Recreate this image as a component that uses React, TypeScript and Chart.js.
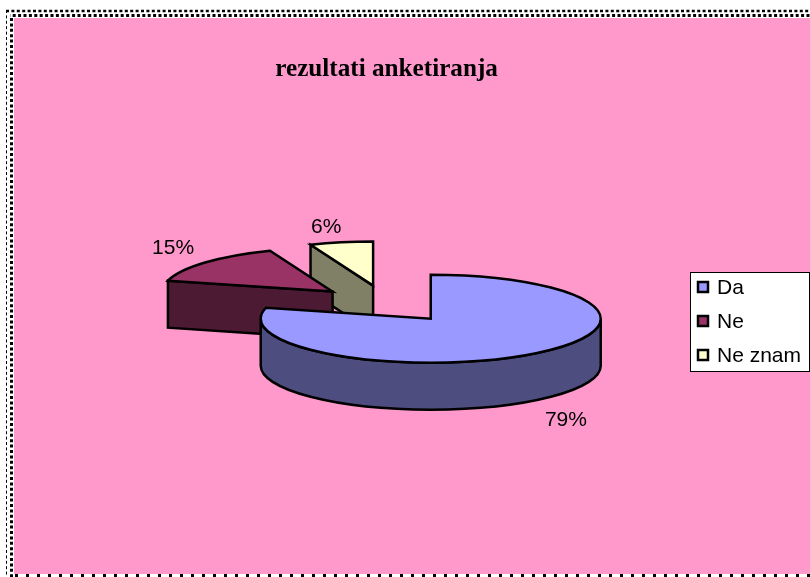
import React, { useEffect, useRef } from "react";
import { Chart, registerables } from "chart.js";

Chart.register(...registerables);

const categories = ["Da", "Ne", "Ne znam"];
const seriesValues = [79, 15, 6];
const topColors = ["#9999FF", "#993366", "#FFFFCC"];
const wallColors = ["#4D4D80", "#4D1A33", "#808066"];
const labelNudges = [[31, 20], [-32, -14], [-15, -15]];
const swatchRows = [287, 321, 355];

const TILT = 44 / 170;
const DEPTH = 47;
const RADIUS = 170;
const EXPLODE = 72;
const PINK = "#FF99CC";

function slicePath(ctx: CanvasRenderingContext2D, cx: number, cy: number, r: number, a0: number, a1: number) {
  ctx.beginPath();
  ctx.moveTo(cx, cy);
  ctx.ellipse(cx, cy, r, r * TILT, 0, a0, a1);
  ctx.closePath();
}

function paint(ctx: CanvasRenderingContext2D, fill: string) {
  ctx.fillStyle = fill;
  ctx.fill();
  ctx.stroke();
}

const pie3d = {
  id: "pie3d",
  beforeDraw(chart: any) {
    const { ctx, width, height } = chart;
    ctx.save();
    ctx.fillStyle = "#FFFFFF";
    ctx.fillRect(0, 0, width, height);
    ctx.fillStyle = PINK;
    ctx.fillRect(14, 18, width - 14, height - 18 - 3);
    ctx.strokeStyle = "#000000";
    const dashed = (x0: number, y0: number, x1: number, y1: number, lw: number, dash: number[], off = 0) => {
      ctx.beginPath();
      ctx.lineWidth = lw;
      ctx.setLineDash(dash);
      ctx.lineDashOffset = off;
      ctx.moveTo(x0, y0);
      ctx.lineTo(x1, y1);
      ctx.stroke();
    };
    dashed(6, 11, width, 11, 2.5, [3, 2.4]);
    dashed(10, 15.5, width, 15.5, 3, [3, 2.4], 2.7);
    dashed(6.5, 10, 6.5, height, 1, [3, 2.4]);
    dashed(11.5, 18, 11.5, height, 3, [3, 2.4]);
    dashed(14, 575.5, width, 575.5, 3, [3, 8], -1);
    ctx.restore();
  },
  beforeDatasetDraw(chart: any) {
    const { ctx } = chart;
    const arcs = chart.getDatasetMeta(0).data;
    const total = seriesValues.reduce((a, b) => a + b, 0);
    const centers = arcs.map((arc: any) => {
      const mid = (arc.startAngle + arc.endAngle) / 2;
      return {
        x: arc.x + Math.cos(mid) * EXPLODE,
        y: arc.y + Math.sin(mid) * EXPLODE * TILT,
      };
    });
    ctx.save();
    ctx.strokeStyle = "#000000";
    ctx.lineWidth = 2.5;
    ctx.lineJoin = "miter";
    for (let i = arcs.length - 1; i >= 0; i--) {
      const arc = arcs[i];
      const { x: cx, y: cy } = centers[i];
      const r = arc.outerRadius;
      const a0 = arc.startAngle;
      const a1 = arc.endAngle;
      for (const [angle, visible] of [
        [a0, Math.cos(a0) < -1e-6],
        [a1, Math.cos(a1) > 1e-6],
      ] as [number, boolean][]) {
        if (!visible) continue;
        const px = cx + Math.cos(angle) * r;
        const py = cy + Math.sin(angle) * r * TILT;
        ctx.beginPath();
        ctx.moveTo(cx, cy);
        ctx.lineTo(px, py);
        ctx.lineTo(px, py + DEPTH);
        ctx.lineTo(cx, cy + DEPTH);
        ctx.closePath();
        paint(ctx, wallColors[i]);
      }
      const lo = Math.max(a0, 0);
      const hi = Math.min(a1, Math.PI);
      if (lo < hi) {
        ctx.beginPath();
        ctx.ellipse(cx, cy, r, r * TILT, 0, lo, hi);
        ctx.ellipse(cx, cy + DEPTH, r, r * TILT, 0, hi, lo, true);
        ctx.closePath();
        paint(ctx, wallColors[i]);
      }
      slicePath(ctx, cx, cy, r, a0, a1);
      paint(ctx, topColors[i]);
    }
    ctx.fillStyle = "#000000";
    ctx.font = '21px "Liberation Sans"';
    ctx.textAlign = "center";
    ctx.textBaseline = "middle";
    arcs.forEach((arc: any, i: number) => {
      const mid = (arc.startAngle + arc.endAngle) / 2;
      const rx = centers[i].x + Math.cos(mid) * arc.outerRadius;
      const ry = centers[i].y + Math.sin(mid) * arc.outerRadius * TILT + (Math.sin(mid) > 0 ? DEPTH : 0);
      const pct = Math.round((seriesValues[i] / total) * 100);
      ctx.fillText(pct + "%", rx + labelNudges[i][0], ry + labelNudges[i][1]);
    });
    ctx.fillStyle = "#FFFFFF";
    ctx.strokeStyle = "#000000";
    ctx.lineWidth = 1;
    ctx.fillRect(690.5, 272.5, 119, 99);
    ctx.strokeRect(690.5, 272.5, 119, 99);
    ctx.textAlign = "left";
    categories.forEach((label, i) => {
      const y = swatchRows[i];
      ctx.lineWidth = 2.5;
      ctx.fillStyle = topColors[i];
      ctx.fillRect(698, y - 5, 10, 10);
      ctx.strokeRect(698, y - 5, 10, 10);
      ctx.fillStyle = "#000000";
      ctx.fillText(label, 717, y + 1);
    });
    ctx.restore();
    return false;
  },
};

export default function App() {
  const ref = useRef<HTMLCanvasElement | null>(null);
  useEffect(() => {
    document.body.style.margin = "0";
    const chart = new Chart(ref.current as HTMLCanvasElement, {
      type: "pie",
      data: {
        labels: categories,
        datasets: [{ data: seriesValues, backgroundColor: topColors, offset: EXPLODE, borderWidth: 0 }],
      },
      plugins: [pie3d],
      options: {
        responsive: false,
        animation: false,
        radius: RADIUS,
        layout: { padding: { left: 0, right: 36.8, top: 54, bottom: 53.4 } },
        plugins: {
          legend: { display: false },
          tooltip: { enabled: false },
          title: {
            display: true,
            text: "rezultati anketiranja",
            fullSize: false,
            color: "#000000",
            padding: 0,
            font: { family: '"Liberation Serif"', size: 25.2, weight: "bold", lineHeight: 1.2 },
          },
        },
      },
    } as any);
    return () => chart.destroy();
  }, []);
  return <canvas ref={ref} width={810} height={577} style={{ display: "block" }} />;
}
